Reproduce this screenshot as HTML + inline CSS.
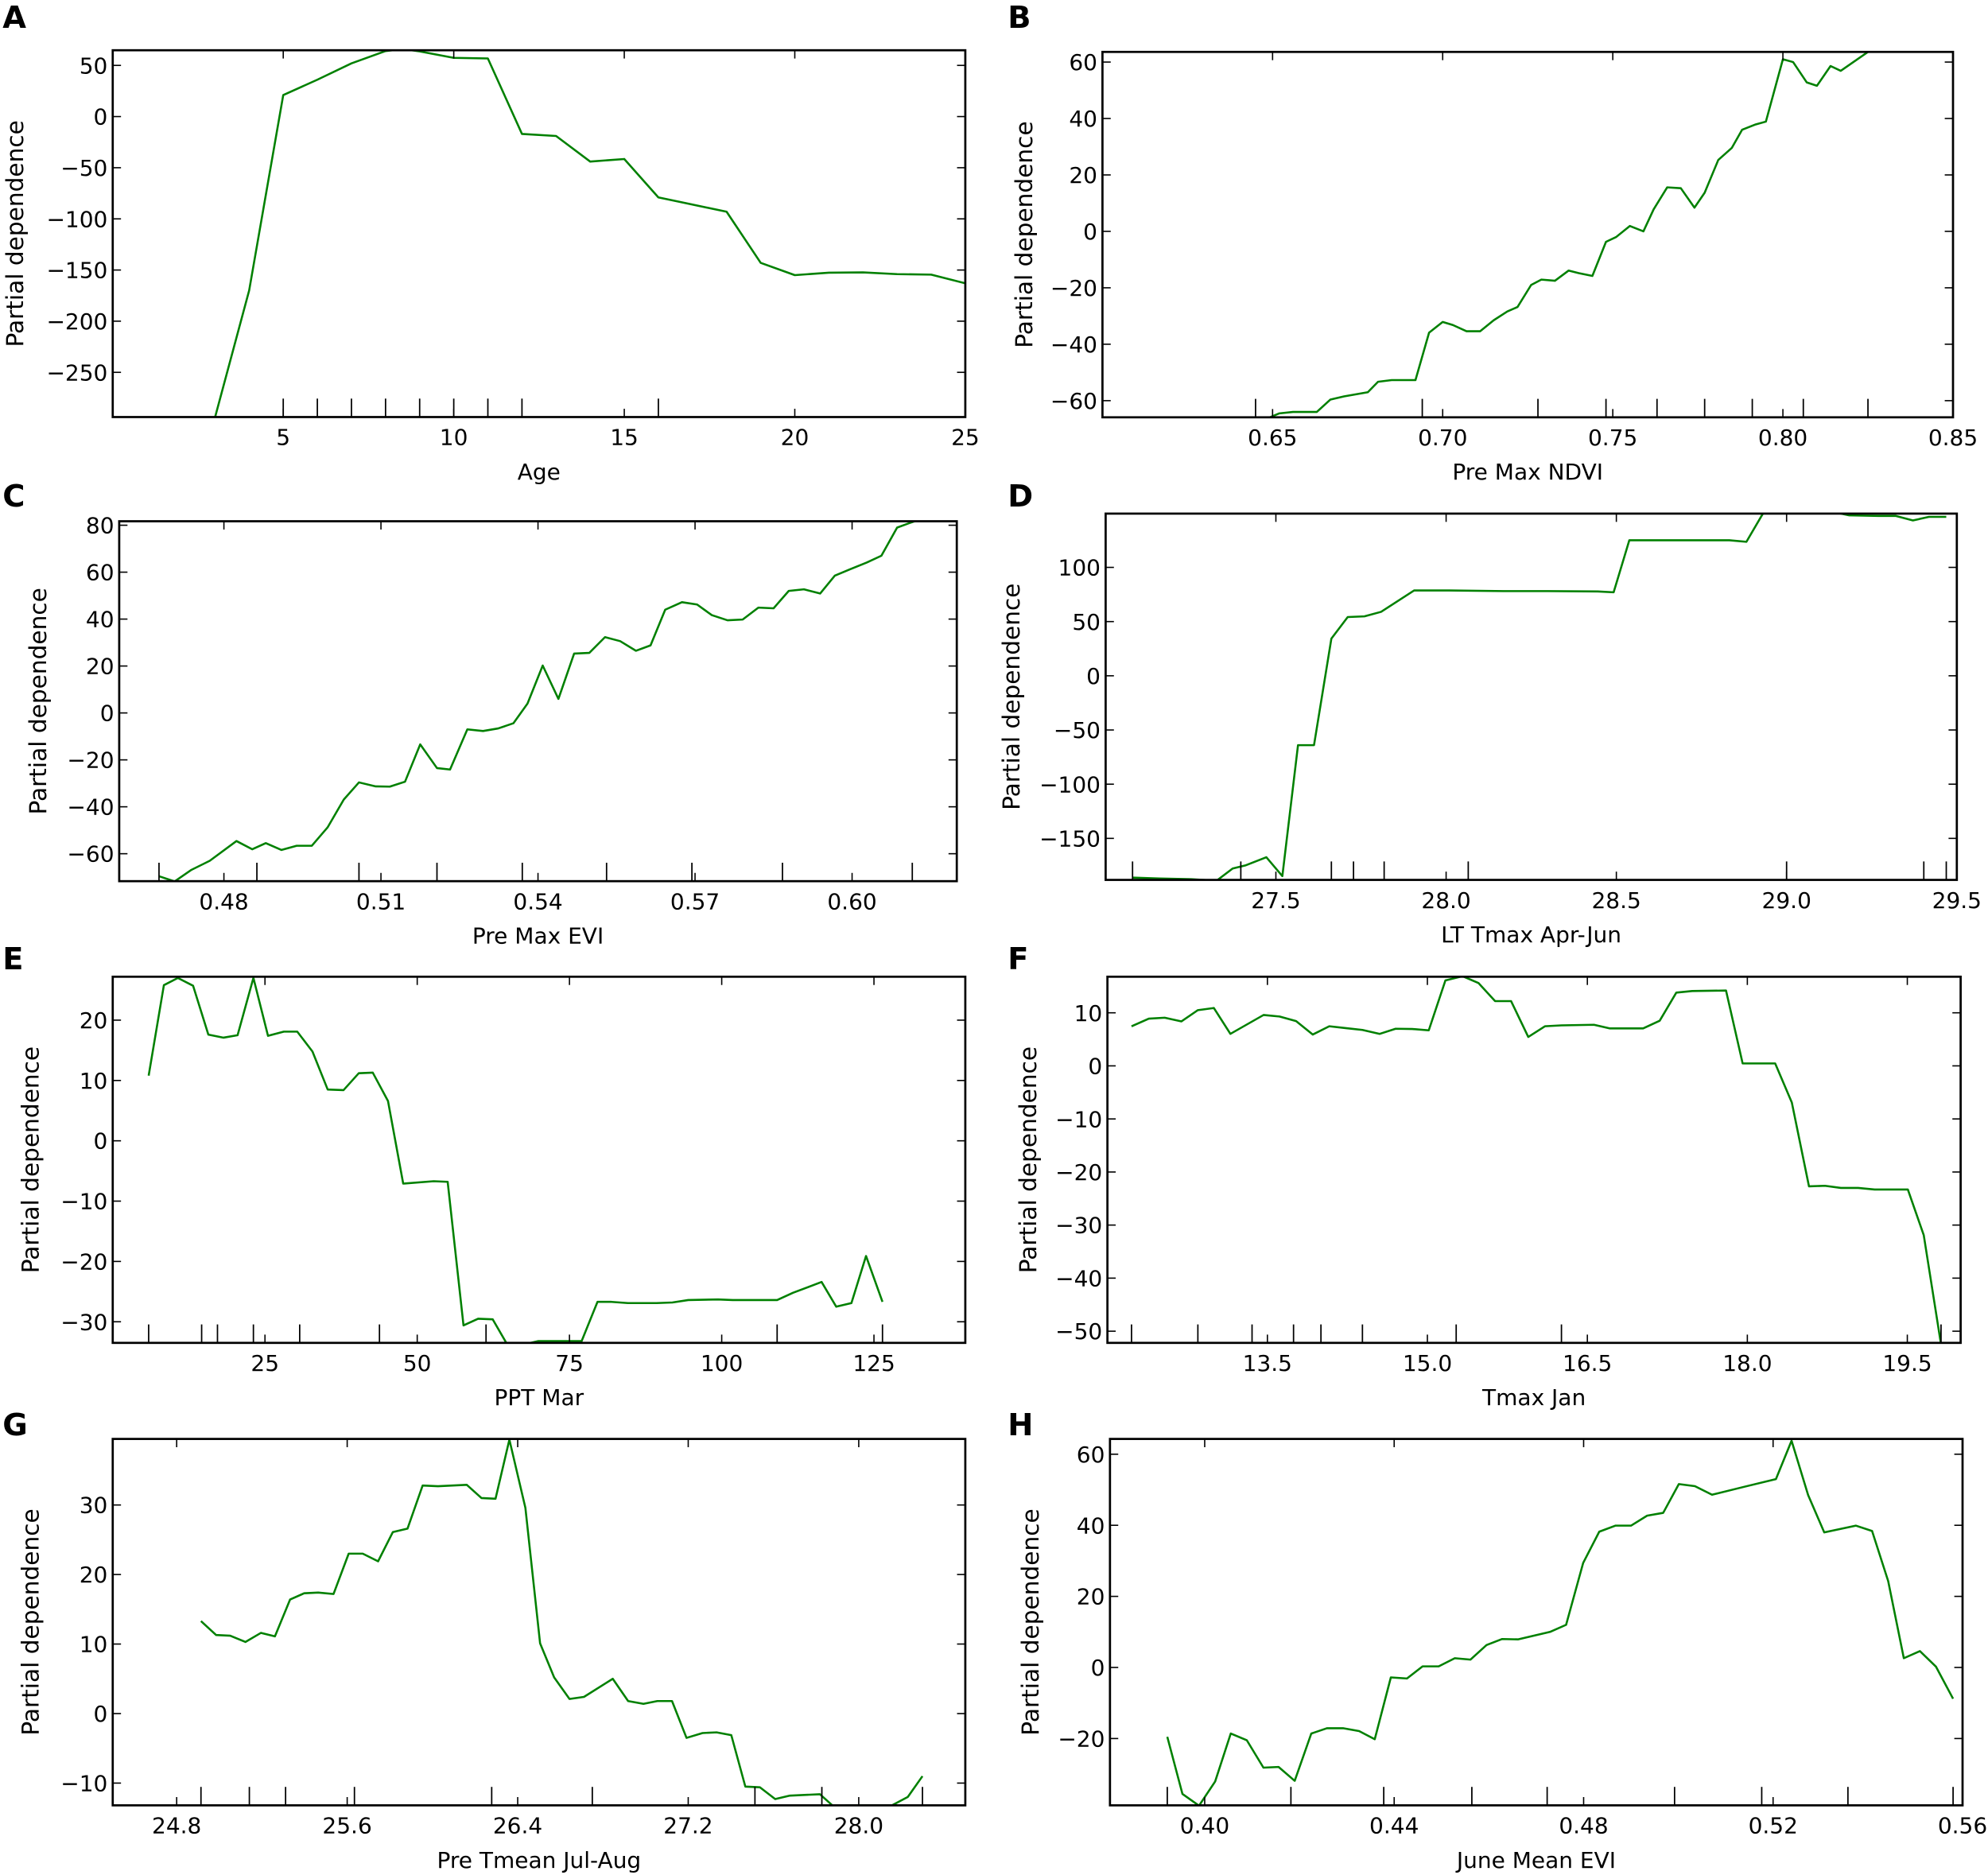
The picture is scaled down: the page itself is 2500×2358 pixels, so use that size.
<!DOCTYPE html>
<html><head><meta charset="utf-8"><style>
html,body{margin:0;padding:0;background:#fff;}
svg{display:block;}
text{font-family:"DejaVu Sans","Liberation Sans",sans-serif;fill:#000;}
</style></head><body>
<svg id="fig" width="2500" height="2358" viewBox="0 0 1562.5 1473.75" xmlns="http://www.w3.org/2000/svg"></svg>
<script>
// ---- Data arrays (top level) ----
const aX=[3,4,5,6,7,8,8.5,9,10,11,12,13,14,15,16,18,19,20,21,22,23,24,25];
const aY=[-294,-170,21,36,52,64,66,63.7,57.4,56.8,-17,-19,-44,-41.5,-79,-93,-143,-155,-152.6,-152.3,-154,-154.5,-163];
const aRug=[5,6,7,8,9,10,11,12,16];
const aXT=[5,10,15,20,25]; const aYT=[-250,-200,-150,-100,-50,0,50];

const bX=[0.649,0.652,0.656,0.663,0.667,0.671,0.678,0.681,0.685,0.692,0.696,0.700,0.703,0.707,0.711,0.715,0.719,0.722,0.726,0.729,0.733,0.737,0.740,0.744,0.748,0.751,0.755,0.759,0.762,0.766,0.770,0.774,0.777,0.781,0.785,0.788,0.792,0.795,0.800,0.803,0.807,0.810,0.814,0.817,0.825,0.840];
const bY=[-66,-64.5,-64,-64,-59.6,-58.5,-57,-53.3,-52.7,-52.7,-35.9,-32.1,-33.2,-35.4,-35.4,-31.5,-28.4,-26.8,-19,-17.1,-17.5,-13.9,-14.8,-15.8,-3.7,-2,1.9,0,7.8,15.6,15.3,8.4,13.7,25.3,29.6,36,37.9,38.9,61,60,52.8,51.6,58.6,56.9,63.6,72];
const bRug=[0.645,0.694,0.728,0.748,0.763,0.777,0.791,0.806,0.825];
const bXT=[0.65,0.70,0.75,0.80,0.85]; const bYT=[-60,-40,-20,0,20,40,60];

const cX=[0.4676,0.4706,0.4737,0.4773,0.4824,0.4854,0.488,0.491,0.4939,0.4968,0.4998,0.5029,0.5058,0.509,0.5117,0.5146,0.5175,0.5207,0.5232,0.5265,0.5295,0.5324,0.5353,0.538,0.5409,0.5439,0.5469,0.5498,0.5528,0.5557,0.5587,0.5615,0.5643,0.5675,0.5704,0.5732,0.5762,0.5791,0.5821,0.585,0.5879,0.5908,0.5939,0.5967,0.5997,0.6028,0.6056,0.6086,0.6113,0.615];
const cY=[-69.6,-71.8,-67,-63,-54.6,-58.1,-55.5,-58.4,-56.6,-56.6,-48.8,-36.9,-29.6,-31.3,-31.4,-29.3,-13.4,-23.5,-24.1,-7,-7.7,-6.6,-4.4,4,20.2,6,25.3,25.6,32.3,30.6,26.5,28.8,44,47.2,46.2,41.7,39.5,39.8,44.9,44.6,52,52.7,50.9,58.5,61.3,64.1,67,79,81.2,84];
const cRug=[0.4676,0.4863,0.5058,0.5207,0.537,0.5531,0.5694,0.5867,0.6115];
const cXT=[0.48,0.51,0.54,0.57,0.60]; const cYT=[-60,-40,-20,0,20,40,60,80];

const dX=[27.079,27.158,27.251,27.326,27.373,27.41,27.472,27.519,27.565,27.612,27.663,27.711,27.76,27.809,27.906,28.009,28.168,28.299,28.445,28.492,28.538,28.636,28.832,28.882,28.93,28.99,29.10,29.184,29.27,29.32,29.371,29.418,29.469];
const dY=[-186.2,-187,-187.6,-189,-177.8,-175,-167.4,-184.8,-64,-64,34.3,54.2,54.8,59,78.7,78.7,78.1,78.1,77.8,77,125,125,125,123.6,149.4,155,153.6,148,147.5,147.5,143.3,146.6,146.6];
const dRug=[27.079,27.397,27.663,27.728,27.818,28.065,29.0,29.403,29.469];
const dXT=[27.5,28.0,28.5,29.0,29.5]; const dYT=[-150,-100,-50,0,50,100];

const eX=[5.9,8.4,10.7,13.2,15.7,18.2,20.5,23.1,25.5,28.1,30.3,32.8,35.3,37.9,40.4,42.7,45.2,47.7,52.7,55,57.6,60,62.4,64.8,67.3,69.9,72.3,77,79.6,81.9,84.6,89.3,91.9,94.5,99.4,101.8,109.1,111.7,116.4,118.8,121.3,123.7,126.4];
const eY=[10.8,25.8,27,25.7,17.6,17.1,17.5,27,17.4,18.1,18.1,14.8,8.5,8.4,11.2,11.3,6.6,-7.1,-6.7,-6.8,-30.6,-29.5,-29.6,-33.8,-33.8,-33.2,-33.2,-33.2,-26.7,-26.7,-26.9,-26.9,-26.8,-26.4,-26.3,-26.4,-26.4,-25.2,-23.4,-27.5,-26.9,-19.1,-26.7];
const eRug=[5.9,14.6,17.2,23.1,30.7,43.8,61.3,109.1,126.4];
const eXT=[25,50,75,100,125]; const eYT=[-30,-20,-10,0,10,20];

const fX=[12.226,12.388,12.537,12.693,12.848,12.998,13.153,13.464,13.614,13.769,13.925,14.08,14.242,14.391,14.553,14.702,14.858,15.013,15.169,15.33,15.48,15.635,15.785,15.946,16.102,16.257,16.562,16.712,17.023,17.178,17.334,17.483,17.8,17.956,18.261,18.417,18.578,18.728,18.877,19.039,19.194,19.505,19.654,19.816];
const fY=[7.46,8.9,9.07,8.38,10.5,10.9,6.03,9.59,9.3,8.44,5.9,7.46,7.1,6.77,6.03,7,6.95,6.7,16.1,16.9,15.6,12.2,12.2,5.45,7.46,7.63,7.75,7.06,7.06,8.5,13.8,14.1,14.2,0.46,0.46,-6.9,-22.7,-22.6,-23,-23,-23.3,-23.3,-31.9,-52.5];
const fRug=[12.226,12.848,13.356,13.745,14.002,14.391,15.27,16.257,19.816];
const fXT=[13.5,15.0,16.5,18.0,19.5]; const fYT=[-50,-40,-30,-20,-10,0,10];

const gX=[24.914,24.985,25.051,25.123,25.195,25.261,25.332,25.398,25.464,25.536,25.607,25.673,25.745,25.814,25.883,25.954,26.026,26.161,26.23,26.296,26.361,26.436,26.505,26.571,26.643,26.711,26.846,26.918,26.99,27.055,27.124,27.192,27.267,27.333,27.402,27.468,27.536,27.608,27.677,27.818,27.88,27.961,28.156,28.23,28.299];
const gY=[13.3,11.3,11.2,10.3,11.6,11.1,16.4,17.3,17.4,17.2,23,23,21.9,26.1,26.6,32.8,32.7,32.9,31,30.9,39.4,29.6,10.1,5.2,2.1,2.4,5,1.8,1.4,1.8,1.8,-3.5,-2.8,-2.7,-3.1,-10.5,-10.6,-12.3,-11.8,-11.6,-13.3,-13.2,-13.2,-12,-9];
const gRug=[24.914,25.141,25.311,25.634,26.278,26.75,27.513,27.827,28.299];
const gXT=[24.8,25.6,26.4,27.2,28.0]; const gYT=[-10,0,10,20,30];

const hX=[0.3921,0.3953,0.3988,0.4022,0.4055,0.4089,0.4124,0.4156,0.419,0.4225,0.4258,0.4292,0.4326,0.4359,0.4393,0.4427,0.446,0.4494,0.4528,0.4561,0.4595,0.4628,0.4662,0.4729,0.4763,0.4799,0.4833,0.4867,0.49,0.4934,0.4968,0.5001,0.5035,0.5071,0.5138,0.5206,0.5239,0.5274,0.5308,0.5375,0.5409,0.5443,0.5476,0.551,0.5544,0.558];
const hY=[-19.5,-35.6,-38.9,-32.1,-18.6,-20.5,-28.2,-28,-31.9,-18.6,-17.1,-17.1,-17.9,-20.2,-2.8,-3.1,0.3,0.3,2.6,2.2,6.3,8,7.9,10,12,29.4,38.2,39.9,39.9,42.7,43.5,51.6,51,48.6,50.8,53,63.8,48.5,38,39.9,38.4,24.3,2.6,4.6,0.2,-8.8];
const hRug=[0.3921,0.4182,0.4378,0.4564,0.4723,0.4992,0.5176,0.5358,0.558];
const hXT=[0.40,0.44,0.48,0.52,0.56]; const hYT=[-20,0,20,40,60];

// ---- Layout ----
const NS="http://www.w3.org/2000/svg";
const svg=document.getElementById('fig');
function mk(tag,attrs,parent){const e=document.createElementNS(NS,tag);for(const k in attrs)e.setAttribute(k,attrs[k]);(parent||svg).appendChild(e);return e;}

const panels=[
 {id:'a',L:'A',lx:2,ly:22,box:[88.6,758.7,39.5,327.8],xd:[0,25],yd:[-293.7,64.8],X:aX,Y:aY,rug:aRug,xt:aXT,yt:aYT,xf:v=>String(v),xl:'Age',ylx:12},
 {id:'b',L:'B',lx:792,ly:22,box:[866.5,1535,40.8,328],xd:[0.60,0.85],yd:[-65.9,63.6],X:bX,Y:bY,rug:bRug,xt:bXT,yt:bYT,xf:v=>v.toFixed(2),xl:'Pre Max NDVI',ylx:805},
 {id:'c',L:'C',lx:2,ly:398,box:[93.7,752,409.7,692.6],xd:[0.46,0.62],yd:[-71.7,81.7],X:cX,Y:cY,rug:cRug,xt:cXT,yt:cYT,xf:v=>v.toFixed(2),xl:'Pre Max EVI',ylx:30},
 {id:'d',L:'D',lx:792,ly:398,box:[869,1538,403.7,691.6],xd:[27.0,29.5],yd:[-188.3,149.6],X:dX,Y:dY,rug:dRug,xt:dXT,yt:dYT,xf:v=>v.toFixed(1),xl:'LT Tmax Apr-Jun',ylx:795},
 {id:'e',L:'E',lx:2,ly:762,box:[88.6,758.7,767.7,1055.5],xd:[0,140],yd:[-33.5,27.2],X:eX,Y:eY,rug:eRug,xt:eXT,yt:eYT,xf:v=>String(v),xl:'PPT Mar',ylx:24},
 {id:'f',L:'F',lx:792,ly:762,box:[870.4,1541,767.7,1055.5],xd:[12.0,20.0],yd:[-52.2,16.8],X:fX,Y:fY,rug:fRug,xt:fXT,yt:fYT,xf:v=>v.toFixed(1),xl:'Tmax Jan',ylx:808},
 {id:'g',L:'G',lx:2,ly:1128,box:[88.6,758.7,1131,1419],xd:[24.5,28.5],yd:[-13.2,39.5],X:gX,Y:gY,rug:gRug,xt:gXT,yt:gYT,xf:v=>v.toFixed(1),xl:'Pre Tmean Jul-Aug',ylx:24},
 {id:'h',L:'H',lx:792,ly:1128,box:[872.4,1542.5,1131,1419],xd:[0.38,0.56],yd:[-38.8,64.3],X:hX,Y:hY,rug:hRug,xt:hXT,yt:hYT,xf:v=>v.toFixed(2),xl:'June Mean EVI',ylx:810}
];

const defs=mk('defs',{});
panels.forEach(p=>{
  const [x0,x1,y0,y1]=p.box;
  const sx=v=>x0+(v-p.xd[0])/(p.xd[1]-p.xd[0])*(x1-x0);
  const sy=v=>y1-(v-p.yd[0])/(p.yd[1]-p.yd[0])*(y1-y0);
  const g=mk('g',{});
  
  
  const cp=mk('clipPath',{id:'clip-'+p.id},defs);
  mk('rect',{x:x0,y:y0,width:x1-x0,height:y1-y0},cp);

  const letter=mk('text',{x:p.lx,y:p.ly,'font-size':24,'font-weight':'bold'},g);
  letter.textContent=p.L;
  
  

  let d='';
  p.X.forEach((xv,i)=>{d+=(i?'L':'M')+sx(xv).toFixed(2)+' '+sy(p.Y[i]).toFixed(2);});
  const line=mk('path',{d:d,fill:'none',stroke:'#008000','stroke-width':1.6,'stroke-linejoin':'round','clip-path':'url(#clip-'+p.id+')'},g);
  
  

  p.rug.forEach(v=>{
    const t=mk('line',{x1:sx(v),x2:sx(v),y1:y1,y2:y1-14.5,stroke:'#000','stroke-width':1.1},g);
    
    
  });

  p.xt.forEach(v=>{
    const X=sx(v);
    mk('line',{x1:X,x2:X,y1:y1,y2:y1-6.5,stroke:'#000','stroke-width':1},g);
    mk('line',{x1:X,x2:X,y1:y0,y2:y0+6.5,stroke:'#000','stroke-width':1},g);
    const t=mk('text',{x:X,y:y1+22,'font-size':17.5,'text-anchor':'middle'},g);
    t.textContent=p.xf(v);
    
    
  });
  p.yt.forEach(v=>{
    const Y=sy(v);
    mk('line',{x1:x0,x2:x0+6.5,y1:Y,y2:Y,stroke:'#000','stroke-width':1},g);
    mk('line',{x1:x1,x2:x1-6.5,y1:Y,y2:Y,stroke:'#000','stroke-width':1},g);
    const t=mk('text',{x:x0-4,y:Y+6.3,'font-size':17.5,'text-anchor':'end'},g);
    t.textContent=(v<0?'\u2212'+Math.abs(v):String(v));
    
    
  });
  const fr=mk('rect',{x:x0,y:y0,width:x1-x0,height:y1-y0,fill:'none',stroke:'#000','stroke-width':1.7},g);
  
  
  const xl=mk('text',{x:(x0+x1)/2,y:y1+49,'font-size':17.5,'text-anchor':'middle'},g);
  xl.textContent=p.xl;
  
  
  const yc=(y0+y1)/2;
  const yl=mk('text',{x:p.ylx,y:yc,'font-size':18.5,'text-anchor':'middle','dominant-baseline':'central',transform:'rotate(-90 '+p.ylx+' '+yc+')'},g);
  yl.textContent='Partial dependence';
  
  
});
</script>
</body></html>
